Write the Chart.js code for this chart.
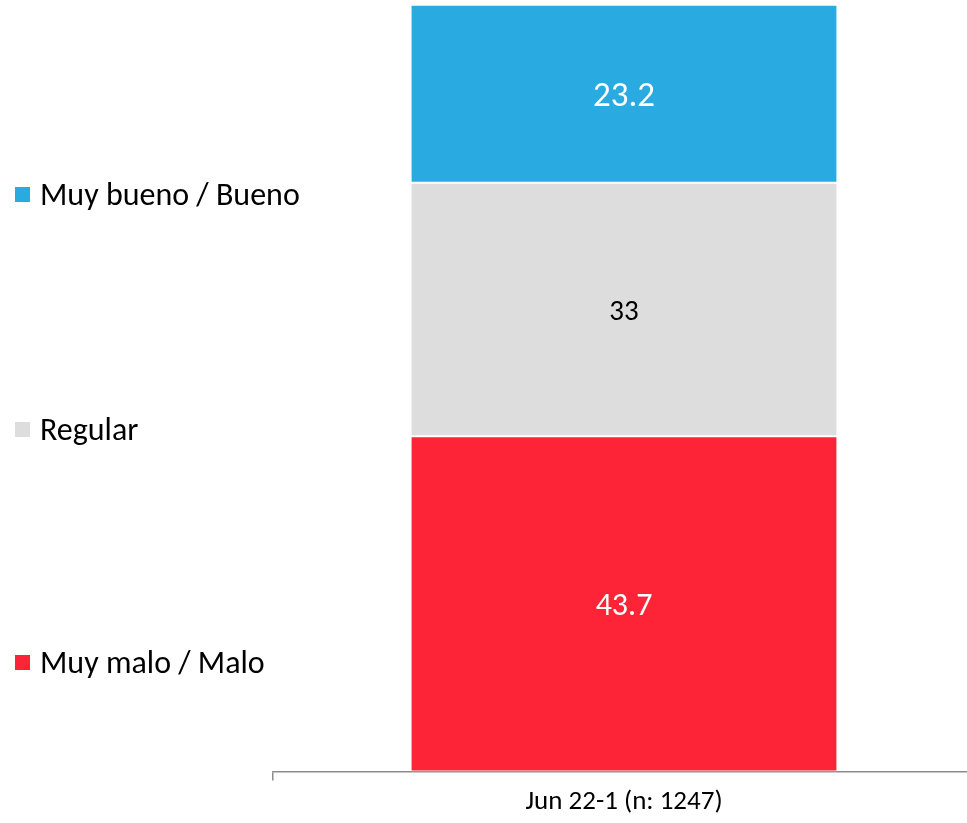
<!DOCTYPE html>
<html>
<head>
<meta charset="utf-8">
<script src="https://cdn.jsdelivr.net/npm/chart.js@4"></script>
<style>
  html, body { margin: 0; padding: 0; background: #fff; }
  #wrap { width: 967px; height: 823px; overflow: hidden; }
  #inner { width: 975px; height: 823px; position: relative; }
</style>
</head>
<body>
<div id="wrap"><div id="inner"><canvas id="chart"></canvas></div></div>
<script>
const categories = ['Jun 22-1 (n: 1247)'];
const seriesNames = ['Muy malo / Malo', 'Regular', 'Muy bueno / Bueno'];
const malo = [43.7];
const regular = [33];
const bueno = [23.2];

const FONT = 'Carlito, Lato, sans-serif';
const colors = ['#FE2437', '#DDDDDD', '#29AAE1'];
const labelColors = ['#ffffff', '#000000', '#ffffff'];
const labelSizes = [32, 29, 35];

// value labels inside each segment
const valueLabels = {
    id: 'valueLabels',
    afterDatasetsDraw(chart) {
        const ctx = chart.ctx;
        chart.data.datasets.forEach((ds, i) => {
            chart.getDatasetMeta(i).data.forEach((bar, j) => {
                const p = bar.getProps(['x', 'y', 'base'], true);
                ctx.save();
                ctx.fillStyle = labelColors[i];
                ctx.font = labelSizes[i] + 'px ' + FONT;
                ctx.textAlign = 'center';
                ctx.textBaseline = 'middle';
                ctx.fillText(String(ds.data[j]), p.x, (p.y + p.base) / 2 + 3);
                ctx.restore();
            });
        });
    }
};

// legend on the left, top to bottom
const sideLegend = {
    id: 'sideLegend',
    afterDraw(chart) {
        const ctx = chart.ctx;
        const ys = [663, 430, 195];
        ctx.save();
        ctx.font = '32px ' + FONT;
        ctx.textBaseline = 'middle';
        seriesNames.forEach((name, i) => {
            ctx.fillStyle = colors[i];
            ctx.fillRect(15, ys[i] - 8, 15, 15);
            ctx.fillStyle = '#000';
            ctx.fillText(name, 40, ys[i] + 2);
        });
        ctx.restore();
    }
};

const ctx = document.getElementById('chart').getContext('2d');
new Chart(ctx, {
    type: 'bar',
    data: {
        labels: categories,
        datasets: [
            { label: seriesNames[0], data: malo, backgroundColor: colors[0] },
            { label: seriesNames[1], data: regular, backgroundColor: colors[1] },
            { label: seriesNames[2], data: bueno, backgroundColor: colors[2] }
        ].map(d => Object.assign(d, {
            borderColor: '#ffffff',
            borderWidth: 1,
            borderSkipped: false,
            categoryPercentage: 1,
            barPercentage: 0.608
        }))
    },
    options: {
        responsive: true,
        maintainAspectRatio: false,
        animation: false,
        layout: { padding: { left: 273, right: 0, top: 4, bottom: 0 } },
        plugins: {
            legend: { display: false },
            tooltip: { enabled: false }
        },
        scales: {
            x: {
                stacked: true,
                border: { display: true, color: '#8c8c8c', width: 1.5 },
                grid: {
                    display: true,
                    drawOnChartArea: false,
                    drawTicks: true,
                    tickLength: 9,
                    color: '#8c8c8c',
                    lineWidth: 1.5
                },
                ticks: {
                    color: '#000',
                    font: { family: FONT, size: 27 },
                    padding: 5
                }
            },
            y: {
                stacked: true,
                display: false,
                min: 0,
                max: 100
            }
        }
    },
    plugins: [valueLabels, sideLegend]
});
</script>
</body>
</html>
